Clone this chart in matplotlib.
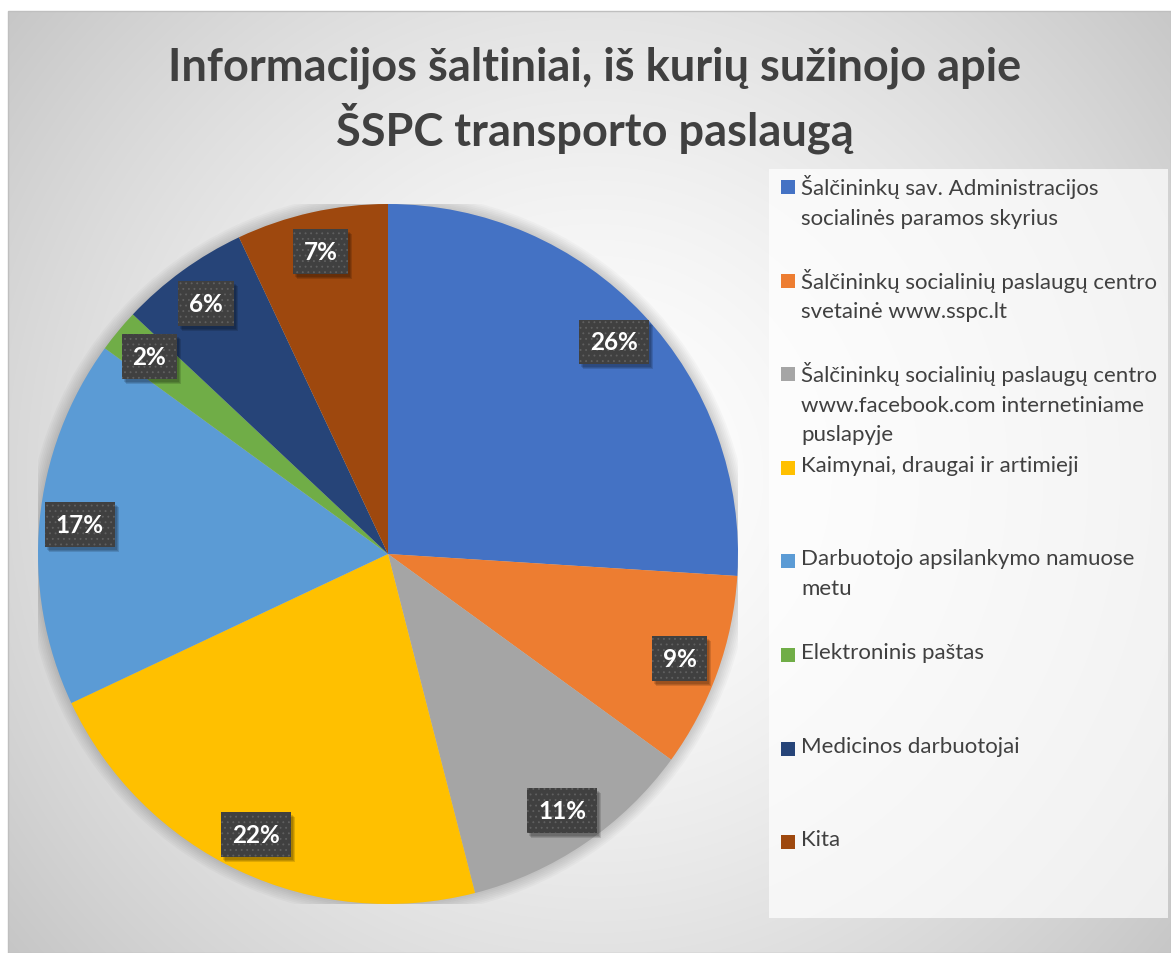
# Pie chart of information sources about the SSPC transport service
import numpy as np
import matplotlib
matplotlib.use("Agg")
import matplotlib.pyplot as plt
from matplotlib.patches import Rectangle, Circle
from matplotlib.transforms import IdentityTransform

plt.rcParams['font.family'] = ['Lato', 'DejaVu Sans']
plt.rcParams['hatch.linewidth'] = 0.6

title_lines = ["Informacijos šaltiniai, iš kurių sužinojo apie", "ŠSPC transporto paslaugą"]

categories = [
    "Šalčininkų sav. Administracijos\nsocialinės paramos skyrius",
    "Šalčininkų socialinių paslaugų centro\nsvetainė www.sspc.lt",
    "Šalčininkų socialinių paslaugų centro\nwww.facebook.com internetiniame\npuslapyje",
    "Kaimynai, draugai ir artimieji",
    "Darbuotojo apsilankymo namuose\nmetu",
    "Elektroninis paštas",
    "Medicinos darbuotojai",
    "Kita",
]
shares = [26, 9, 11, 22, 17, 2, 6, 7]
colors = ["#4472C4", "#ED7D31", "#A5A5A5", "#FFC000",
          "#5B9BD5", "#70AD47", "#264478", "#9E480E"]

W, H = 1171, 954
TEXT = "#404040"


def main():
    fig = plt.figure(figsize=(W / 100, H / 100), dpi=100)
    fig.patch.set_facecolor("white")

    # background axes in pixel coords (y down)
    bg = fig.add_axes([0, 0, 1, 1])
    bg.set_xlim(0, W)
    bg.set_ylim(H, 0)
    bg.axis("off")

    # radial gradient: white in the middle, grey at the corners
    yy, xx = np.mgrid[0:H, 0:W]
    cx, cy = 590, 470
    d = np.hypot(xx - cx, yy - cy)
    t = np.clip(d / np.hypot(cx, cy), 0, 1)
    g = 1 - 0.22 * t ** 1.5
    img = np.dstack([g, g, g])
    bg.imshow(img, extent=(8, W, H, 12), zorder=0, aspect="auto")
    bg.add_patch(Rectangle((8, 12), W - 8, H - 12, fill=False,
                           ec="#bfbfbf", lw=1, zorder=1))

    # title
    bg.text(595, 68, title_lines[0], ha="center", va="center",
            fontsize=32.5, fontweight="bold", color=TEXT)
    bg.text(595, 128, title_lines[1], ha="center", va="center",
            fontsize=32.5, fontweight="bold", color=TEXT)

    # legend box
    bg.add_patch(Rectangle((769, 170), 399, 749, fc="white", ec="none",
                           alpha=0.7, zorder=2))
    y0, step = 188, 93.6
    for i, lab in enumerate(categories):
        yc = y0 + i * step
        bg.add_patch(Rectangle((781, yc - 7), 14, 14, fc=colors[i],
                               ec="none", zorder=3))
        bg.text(801, yc - 13, lab, ha="left", va="top", fontsize=16,
                color=TEXT, linespacing=1.6, zorder=3)

    # pie axes: center (388, 555), radius 350 px
    r = 350
    ax = fig.add_axes([(388 - r) / W, (H - 555 - r) / H, 2 * r / W, 2 * r / H])
    ax.axis("off")

    # soft shadow around the pie
    for k in range(8):
        ax.add_patch(Circle((0, 0), 1.0 + 0.005 * k, fc="#000000",
                            alpha=0.025, ec="none", zorder=0))

    wedges, texts, autotexts = ax.pie(
        shares, colors=colors, startangle=90, counterclock=False,
        radius=1, autopct="%d%%", pctdistance=0.885,
        wedgeprops=dict(linewidth=0), textprops=dict(zorder=5))
    ax.set_xlim(-1, 1)
    ax.set_ylim(-1, 1)
    ax.set_aspect("equal")

    for at in autotexts:
        at.set_color("white")
        at.set_fontsize(17.5)
        at.set_fontweight("bold")
        at.set_bbox(dict(boxstyle="square,pad=0.45", fc="#404040",
                         ec="#606060", lw=0, hatch="..."))

    # drop shadows behind the label boxes (pixel coords, below the labels)
    fig.canvas.draw()
    for at in autotexts:
        bb = at.get_bbox_patch().get_window_extent()
        for k in range(3):
            ax.add_patch(Rectangle((bb.x0 + 2 + k, bb.y0 - 2 - k - 1),
                                   bb.width, bb.height,
                                   transform=IdentityTransform(), fc="black",
                                   ec="none", alpha=0.13, zorder=4,
                                   clip_on=False))

    fig.savefig("out.png", dpi=100)


if __name__ == '__main__':
    main()
